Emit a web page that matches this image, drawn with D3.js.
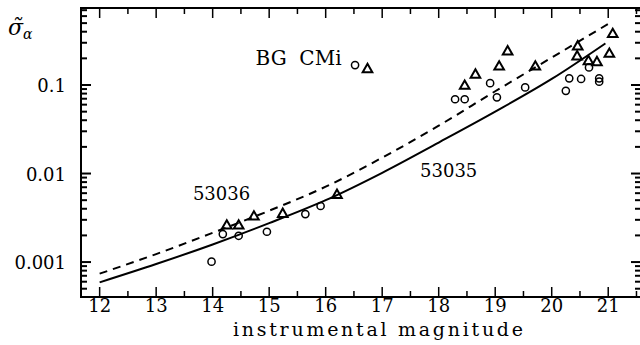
<!DOCTYPE html>
<html>
<head>
<meta charset="utf-8">
<script src="https://cdnjs.cloudflare.com/ajax/libs/d3/7.8.5/d3.min.js"></script>
<style>
  body { margin: 0; background: #fff; }
  text { font-family: "DejaVu Serif", serif; fill: #000; }
</style>
</head>
<body>
<svg id="chart" width="640" height="345"></svg>
<script>
// curves (noise model), sigma read at integer magnitudes
var curveMag   = [12, 13, 14, 15, 16, 17, 18, 19, 20, 20.95];
var sig53035   = [0.00059, 0.00095, 0.00158, 0.00275, 0.0050, 0.0102, 0.0224, 0.050, 0.117, 0.295];
var dashMag    = [12, 13, 14, 15, 16, 17, 18, 19, 20, 21];
var sig53036   = [0.00074, 0.00123, 0.00214, 0.0038, 0.0071, 0.0151, 0.0347, 0.085, 0.204, 0.49];

// measured stars: circles
var circMag = [13.98, 14.18, 14.46, 14.96, 15.64, 15.91, 16.52, 18.29, 18.46, 18.91, 19.03, 19.53, 20.25, 20.31, 20.52, 20.66, 20.84, 20.84];
var circSig = [0.00101, 0.00207, 0.00198, 0.0022, 0.00348, 0.0043, 0.168, 0.069, 0.069, 0.105, 0.0726, 0.094, 0.086, 0.119, 0.117, 0.158, 0.119, 0.109];
// triangles
var triMag = [14.25, 14.46, 14.73, 15.24, 16.2, 16.74, 18.46, 18.65, 19.07, 19.22, 19.71, 20.45, 20.46, 20.65, 20.8, 21.02, 21.08];
var triSig = [0.00257, 0.00257, 0.00325, 0.00348, 0.0057, 0.15, 0.0975, 0.13, 0.161, 0.238, 0.161, 0.209, 0.271, 0.185, 0.18, 0.224, 0.374];

var xTicks = [12, 13, 14, 15, 16, 17, 18, 19, 20, 21];
var yTicks = [0.001, 0.01, 0.1];
var yTickLabels = ["0.001", "0.01", "0.1"];

var svg = d3.select("#chart");
var pl = 81, pr = 641, pt = 8, pb = 297;

var x = d3.scaleLinear().domain([11.67, 21.58]).range([pl, pr]);
var y = d3.scaleLog().domain([0.000403, 0.741]).range([pb, pt]);

// minor ticks
var xMinor = d3.range(11.5, 21.6, 0.5).filter(function (v) { return v % 1 !== 0 && v > 11.67; });
var yMinor = [];
[0.0001, 0.001, 0.01, 0.1].forEach(function (d) {
  for (var k = 2; k <= 9; k++) {
    var v = d * k;
    if (v > 0.000403 && v < 0.741) yMinor.push(v);
  }
});

var g = svg.append("g");

// frame
g.append("rect").attr("x", pl).attr("y", pt)
  .attr("width", pr - pl).attr("height", pb - pt)
  .attr("fill", "none").attr("stroke", "#000").attr("stroke-width", 2);

// bottom / top ticks
xTicks.forEach(function (t) {
  g.append("line").attr("x1", x(t)).attr("x2", x(t)).attr("y1", pb).attr("y2", pb - 10)
    .attr("stroke", "#000").attr("stroke-width", 1.5);
  g.append("line").attr("x1", x(t)).attr("x2", x(t)).attr("y1", pt).attr("y2", pt + 10)
    .attr("stroke", "#000").attr("stroke-width", 1.5);
  g.append("text").attr("x", x(t)).attr("y", pb + 15)
    .attr("text-anchor", "middle").style("font-size", "18px").text(t);
});
xMinor.forEach(function (t) {
  g.append("line").attr("x1", x(t)).attr("x2", x(t)).attr("y1", pb).attr("y2", pb - 6)
    .attr("stroke", "#000").attr("stroke-width", 1.5);
  g.append("line").attr("x1", x(t)).attr("x2", x(t)).attr("y1", pt).attr("y2", pt + 6)
    .attr("stroke", "#000").attr("stroke-width", 1.5);
});

// left / right ticks
yTicks.forEach(function (t, i) {
  g.append("line").attr("x1", pl).attr("x2", pl + 10).attr("y1", y(t)).attr("y2", y(t))
    .attr("stroke", "#000").attr("stroke-width", 2);
  g.append("line").attr("x1", pr).attr("x2", pr - 10).attr("y1", y(t)).attr("y2", y(t))
    .attr("stroke", "#000").attr("stroke-width", 2);
  g.append("text").attr("x", 66).attr("y", y(t) + 7)
    .attr("text-anchor", "end").style("font-size", "18px").text(yTickLabels[i]);
});
yMinor.forEach(function (t) {
  g.append("line").attr("x1", pl).attr("x2", pl + 6).attr("y1", y(t)).attr("y2", y(t))
    .attr("stroke", "#000").attr("stroke-width", 2);
  g.append("line").attr("x1", pr).attr("x2", pr - 6).attr("y1", y(t)).attr("y2", y(t))
    .attr("stroke", "#000").attr("stroke-width", 2);
});

// curves
var line = d3.line()
  .x(function (d) { return x(d[0]); })
  .y(function (d) { return y(d[1]); })
  .curve(d3.curveMonotoneX);

g.append("path").datum(d3.zip(curveMag, sig53035))
  .attr("d", line).attr("fill", "none").attr("stroke", "#000").attr("stroke-width", 2);
g.append("path").datum(d3.zip(dashMag, sig53036))
  .attr("d", line).attr("fill", "none").attr("stroke", "#000").attr("stroke-width", 2)
  .attr("stroke-dasharray", "8,6");

// points
g.selectAll(".circ").data(d3.zip(circMag, circSig)).enter().append("circle")
  .attr("class", "circ")
  .attr("cx", function (d) { return x(d[0]); })
  .attr("cy", function (d) { return y(d[1]); })
  .attr("r", 3.6).attr("fill", "none").attr("stroke", "#000").attr("stroke-width", 1.5);

var tri = d3.symbol().type(d3.symbolTriangle).size(40);
g.selectAll(".tri").data(d3.zip(triMag, triSig)).enter().append("path")
  .attr("class", "tri")
  .attr("d", tri)
  .attr("transform", function (d) { return "translate(" + x(d[0]) + "," + y(d[1]) + ")"; })
  .attr("fill", "none").attr("stroke", "#000").attr("stroke-width", 2);

// annotations
g.append("text").attr("x", x(14.76)).attr("y", y(0.168)).style("font-size", "20px")
  .attr("xml:space", "preserve").text("BG  CMi");
g.append("text").attr("x", x(13.65)).attr("y", y(0.005)).style("font-size", "18px").text("53036");
g.append("text").attr("x", x(17.67)).attr("y", y(0.0091)).style("font-size", "18px").text("53035");

// axis titles
g.append("text").attr("x", 378).attr("y", 336).attr("text-anchor", "middle")
  .style("font-size", "19px").attr("textLength", 290).attr("lengthAdjust", "spacing")
  .text("instrumental magnitude");

var yt = g.append("text").attr("x", 8).attr("y", 35).style("font-size", "22px").style("font-style", "italic");
yt.append("tspan").text("\u03C3\u0303");
yt.append("tspan").attr("dy", 4).style("font-size", "14px").text("\u03B1");
</script>
</body>
</html>
